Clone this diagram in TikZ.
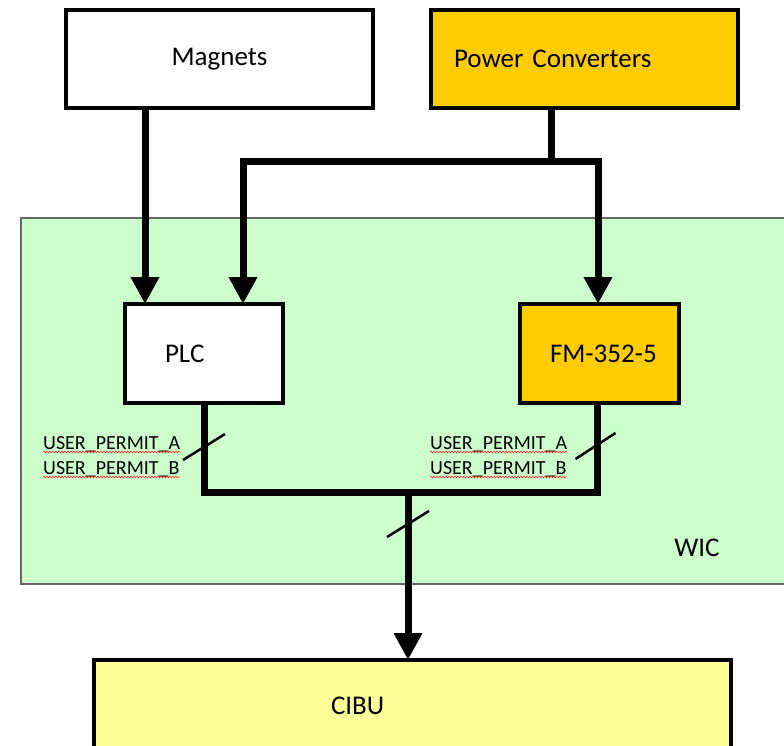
\documentclass[tikz,border=0pt]{standalone}
\usepackage{fontspec}
\setmainfont{Carlito}
\usepackage{tikz}
\usetikzlibrary{arrows.meta,positioning,calc,decorations.pathmorphing}
\definecolor{colPC}{HTML}{FFCC00}
\definecolor{colWIC}{HTML}{CCFFCC}
\definecolor{colCIBU}{HTML}{FFFF99}
\tikzset{
  box/.style   = {rectangle, draw=black, line width=4pt, fill=white,
                  minimum height=98pt, inner sep=0pt, outer sep=0pt,
                  font=\fontsize{27}{32}\selectfont},
  wicbox/.style= {rectangle, draw=black!60, line width=1.5pt,
                  fill=colWIC, inner sep=0pt, outer sep=0pt},
  lbl/.style   = {anchor=base west, inner sep=0pt,
                  font=\fontsize{20}{24}\selectfont},
  wire/.style  = {line width=7pt, draw=black},
  arr/.style   = {wire, -{Triangle[length=27pt,width=27pt]}},
  slash/.style = {line width=2.5pt, draw=black},
  spell/.style = {draw=red!85, line width=0.6pt, decorate,
                  decoration={snake, amplitude=0.8pt, segment length=3pt}},
}
\begin{document}
\begin{tikzpicture}[x=1pt, y=-1pt]
\useasboundingbox (0,0) rectangle (784,746);
\clip (0,0) rectangle (784,746);

%% ── Top row: sources ───────────────────────────────────────
\node[box, minimum width=307pt] (mag) at (219.5,59) {Magnets};
\node[box, fill=colPC, text width=261pt, inner xsep=23pt, align=left]
  (pc) at (584.5,59) {Power Converters};

%% ── WIC area ──────────────────────────────────────────────
\node[wicbox, anchor=north west, minimum width=790pt, minimum height=366pt]
  (wic) at (21,218) {};
\node[font=\fontsize{27}{32}\selectfont] (wiclab) at (697,548) {WIC};

\node[box, minimum height=99pt, text width=78pt, inner xsep=40pt, align=left]
  (plc) at (204,353.5) {PLC};
\node[box, fill=colPC, minimum height=99pt, text width=99pt, inner xsep=30pt,
      align=left] (fm) at (599.5,353.5) {\mbox{FM-352-5}};

%% ── Bottom: CIBU ──────────────────────────────────────────
\node[box, fill=colCIBU, minimum height=92pt, text width=163pt,
      inner xsep=237pt, align=left] (cibu) at (412.5,706) {CIBU};

%% ── Permit labels ─────────────────────────────────────────
\node[lbl] (plca) at (43,449)  {USER\_PERMIT\_A};
\node[lbl] (plcb) at (43,474)  {USER\_PERMIT\_B};
\node[lbl] (fma)  at (430,449) {USER\_PERMIT\_A};
\node[lbl] (fmb)  at (430,474) {USER\_PERMIT\_B};
\foreach \n in {plca,plcb,fma,fmb}
  \draw[spell] ([yshift=-3pt]\n.base west) -- ([yshift=-3pt]\n.base east);

%% ── Arrows: sources → WIC ─────────────────────────────────
\coordinate (jpc) at (551,162);
\draw[arr] ([xshift=-59pt]plc.north |- mag.south) -- ([xshift=-59pt]plc.north);
\draw[wire] (jpc |- pc.south) -- (jpc);
\draw[arr] (jpc) -| ([xshift=39pt]plc.north);
\draw[arr] (jpc) -| ([xshift=-1.5pt]fm.north);

%% ── Arrows: WIC → CIBU ────────────────────────────────────
\coordinate (jbus) at (408,492);
\draw[wire] (plc.south) |- (jbus);
\draw[wire] ([xshift=-2pt]fm.south) |- (jbus);
\draw[arr] (jbus) -- (jbus |- cibu.north);

%% ── Bus width marks ───────────────────────────────────────
\draw[slash] ([yshift=-44pt]plc.south) ++(-21,13) -- ++(42,-26);
\draw[slash] ([xshift=-4pt,yshift=-43pt]fm.south) ++(-20,13) -- ++(40,-26);
\draw[slash] ([yshift=-32pt]jbus) ++(-21,13) -- ++(42,-26);

\end{tikzpicture}
\end{document}
